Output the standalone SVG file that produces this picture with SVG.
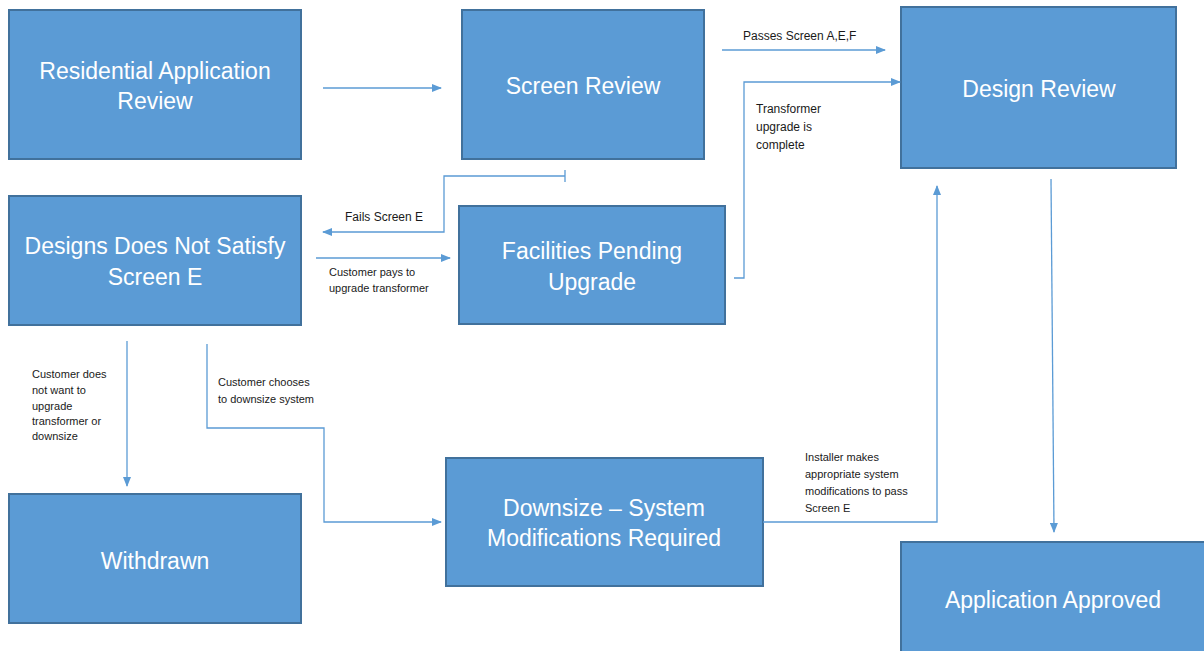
<svg xmlns="http://www.w3.org/2000/svg" width="1204" height="651" viewBox="0 0 1204 651">
<style>
.box{fill:#5B9BD5;stroke:#41719C;stroke-width:2}
.bt{fill:#fff;font-family:"Liberation Sans",Arial,sans-serif;font-size:23px;text-anchor:middle}
.c{fill:none;stroke:#5B9BD5;stroke-width:1.3}
.lb{fill:#1a1a1a;font-family:"Liberation Sans",Arial,sans-serif;font-size:12px}
.sm{font-size:11px}
</style>
<defs>
<marker id="ar" markerWidth="10" markerHeight="8" refX="9" refY="4" orient="auto" markerUnits="userSpaceOnUse">
<path d="M0,0 L10,4 L0,8 Z" fill="#5B9BD5"/>
</marker>
</defs>
<rect width="1204" height="651" fill="#fff"/>
<g id="n1"><rect class="box" x="9" y="10" width="292" height="149"/><text class="bt" x="155" y="79">Residential Application</text><text class="bt" x="155" y="109">Review</text></g>
<g id="n2"><rect class="box" x="462" y="10" width="242" height="149"/><text class="bt" x="583" y="94">Screen Review</text></g>
<g id="n3"><rect class="box" x="901" y="7" width="275" height="161"/><text class="bt" x="1039" y="97">Design Review</text></g>
<g id="n4"><rect class="box" x="9" y="196" width="292" height="129"/><text class="bt" x="155" y="254">Designs Does Not Satisfy</text><text class="bt" x="155" y="285">Screen E</text></g>
<g id="n5"><rect class="box" x="459" y="206" width="266" height="118"/><text class="bt" x="592" y="259">Facilities Pending</text><text class="bt" x="592" y="290">Upgrade</text></g>
<g id="n6"><rect class="box" x="9" y="494" width="292" height="129"/><text class="bt" x="155" y="569">Withdrawn</text></g>
<g id="n7"><rect class="box" x="446" y="458" width="317" height="128"/><text class="bt" x="604" y="516">Downsize – System</text><text class="bt" x="604" y="546">Modifications Required</text></g>
<g id="n8"><rect class="box" x="901" y="542" width="310" height="120"/><text class="bt" x="1053" y="608">Application Approved</text></g>
<g id="connectors">
<path class="c" d="M323,88 H441" marker-end="url(#ar)"/>
<path class="c" d="M722,50 H885" marker-end="url(#ar)"/>
<path class="c" d="M734,278 H744 V82 H900" marker-end="url(#ar)"/>
<path class="c" d="M565,170 V182 M565,176 H444 V232 H323" marker-end="url(#ar)"/>
<path class="c" d="M316,258 H450" marker-end="url(#ar)"/>
<path class="c" d="M127,341 V486" marker-end="url(#ar)"/>
<path class="c" d="M207,344 V428 H324 V522 H441" marker-end="url(#ar)"/>
<path class="c" d="M763,522 H937 V186" marker-end="url(#ar)"/>
<path class="c" d="M1051,179 L1054,532" marker-end="url(#ar)"/>
</g>
<g id="labels">
<text class="lb" x="743" y="40">Passes Screen A,E,F</text>
<text class="lb" x="756" y="113">Transformer</text>
<text class="lb" x="756" y="131">upgrade is</text>
<text class="lb" x="756" y="149">complete</text>
<text class="lb" x="345" y="221">Fails Screen E</text>
<text class="lb sm" x="329" y="276">Customer pays to</text>
<text class="lb sm" x="329" y="292">upgrade transformer</text>
<text class="lb sm" x="32" y="378">Customer does</text>
<text class="lb sm" x="32" y="394">not want to</text>
<text class="lb sm" x="32" y="410">upgrade</text>
<text class="lb sm" x="32" y="425">transformer or</text>
<text class="lb sm" x="32" y="440">downsize</text>
<text class="lb sm" x="218" y="386">Customer chooses</text>
<text class="lb sm" x="218" y="403">to downsize system</text>
<text class="lb sm" x="805" y="461">Installer makes</text>
<text class="lb sm" x="805" y="478">appropriate system</text>
<text class="lb sm" x="805" y="495">modifications to pass</text>
<text class="lb sm" x="805" y="512">Screen E</text>
</g>
</svg>
